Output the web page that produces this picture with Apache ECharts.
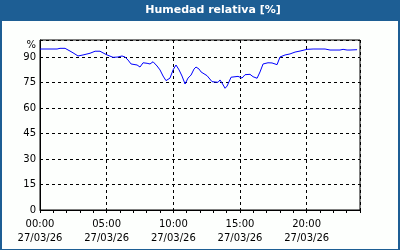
<!DOCTYPE html>
<html><head><meta charset="utf-8">
<script src="https://cdn.jsdelivr.net/npm/echarts@6/dist/echarts.min.js"></script>
<style>html,body{margin:0;padding:0;background:#1d5e94}#c{width:400px;height:250px}</style>
</head><body><div id="c"></div>
<script>
var titleText = 'Humedad relativa [%]';
var unitLabel = '%';
var dateLabel = '27/03/26';
// hours since 00:00 on 27/03/26
var hours = [0,0.75,1.28,1.5,1.88,2.25,2.55,2.85,3.23,3.75,4.13,4.5,4.73,5.03,5.48,5.63,5.85,6.15,6.38,6.6,6.83,6.98,7.28,7.5,7.73,8.03,8.25,8.48,8.78,9.0,9.23,9.45,9.75,9.98,10.2,10.43,10.65,10.88,11.1,11.33,11.55,11.7,11.93,12.08,12.23,12.53,12.9,13.13,13.35,13.5,13.65,13.88,14.03,14.33,14.48,14.85,15.15,15.38,15.75,15.98,16.28,16.5,16.73,17.1,17.4,17.78,18.0,18.38,18.75,19.13,19.5,20.03,20.48,21.38,21.75,22.5,22.73,23.03,23.25,23.78];
var humidity = [94.7,94.7,94.7,95.1,95.1,93.5,92.1,90.6,91.2,92.2,93.4,93.4,92.4,91.2,89.8,89.0,90.0,90.6,90.0,88.2,85.9,85.3,85.3,84.1,86.6,86.3,85.9,87.2,84.7,82.4,78.8,76.1,77.6,82.4,85.3,82.4,78.8,74.1,77.6,79.4,82.9,84.1,82.9,81.2,81.4,79.0,75.5,75.3,75.1,76.5,74.7,71.6,72.9,78.1,78.8,78.6,77.6,79.6,79.8,78.4,77.5,81.2,85.9,86.6,86.5,85.5,90.0,91.2,91.8,92.9,93.5,94.5,94.7,94.7,94.1,94.1,94.5,94.1,94.1,94.3];

var data = hours.map(function(h,i){return [h, humidity[i]];});
var font = 'DejaVu Sans';
function pad(n){return (n<10?'0':'')+n;}
var chart = echarts.init(document.getElementById('c'), null, {renderer:'canvas'});
chart.setOption({
  backgroundColor:'#1d5e94',
  animation:false,
  graphic:[
    {type:'rect', shape:{x:2,y:21,width:396,height:228}, style:{fill:'#fdfffd'}, z:-10},
    {type:'text', x:213, y:10, style:{text:titleText, fill:'#ffffff', font:'bold 11px "DejaVu Sans"', textAlign:'center', textVerticalAlign:'middle'}},
    {type:'text', x:36, y:45, style:{text:unitLabel, fill:'#000000', font:'10px "DejaVu Sans"', textAlign:'right', textVerticalAlign:'middle'}}
  ],
  grid:{left:40, top:40, right:40, bottom:40, show:true, borderColor:'#000', borderWidth:1, backgroundColor:'transparent'},
  xAxis:[{
    type:'value', min:0, max:24, interval:5, position:'bottom',
    axisLine:{show:true, lineStyle:{color:'#000', width:1}},
    axisTick:{show:false},
    splitLine:{show:true, lineStyle:{color:'#000', type:[3,3], width:1}},
    axisLabel:{color:'#000', fontFamily:font, fontSize:10, lineHeight:14, margin:7,
      formatter:function(v){ if(v%5!==0) return ''; return pad(v)+':00\n'+dateLabel; }}
  },{
    type:'value', min:0, max:24, interval:1, position:'bottom',
    axisLine:{show:false},
    axisTick:{show:true, inside:false, length:3, lineStyle:{color:'#000'}},
    splitLine:{show:false}, axisLabel:{show:false}
  }],
  yAxis:{
    type:'value', min:0, max:100, interval:15,
    axisLine:{show:true, lineStyle:{color:'#000'}},
    axisTick:{show:false},
    splitLine:{show:true, lineStyle:{color:'#000', type:[3,3], width:1}},
    axisLabel:{color:'#000', fontFamily:font, fontSize:10, margin:4,
      formatter:function(v){ return v>95 ? '' : String(v); }}
  },
  series:[{type:'line', data:data, xAxisIndex:0, showSymbol:false, symbol:'none',
    lineStyle:{color:'#0000ff', width:1}, itemStyle:{color:'#0000ff'}, z:5}]
});
</script></body></html>
